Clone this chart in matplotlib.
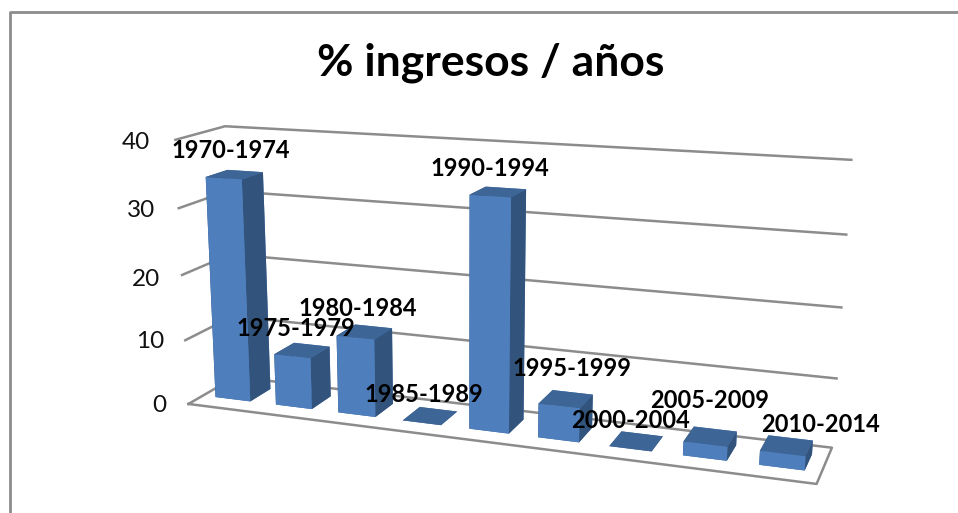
import numpy as np
import matplotlib
matplotlib.use("Agg")
import matplotlib.pyplot as plt
from matplotlib.lines import Line2D

# ---- data ----
categories = ["1970-1974", "1975-1979", "1980-1984", "1985-1989", "1990-1994",
              "1995-1999", "2000-2004", "2005-2009", "2010-2014"]
values = [34.0, 7.9, 11.8, 0.0, 34.0, 5.0, 0.0, 2.0, 2.0]
z_ticks = [0, 10, 20, 30, 40]
title = "% ingresos / años"

# ---- layout (pixels in the 958x513 picture) ----
W, H = 958, 513
label_px = [(231, 151), (296, 328), (358, 309), (424, 395), (490, 169),
            (572, 368), (631, 421), (710, 400), (821, 424)]
tick_px = [(159, 406), (150, 342), (146, 279), (141, 211), (136, 143)]
GREY = "#8c8c8c"
FRONT, TOP, SIDE = "#4e7ebc", "#3d6596", "#32537c"
FONT = "Lato"

# camera calibration: frame corners of the chart box -> picture pixels
n = len(categories)
zmax = z_ticks[-1]
calib = [((0, 0, 0), (191, 404)), ((0, 1, 0), (233, 377)), ((n, 1, 0), (832, 447)),
         ((n, 0, 0), (816, 485)), ((0, 0, zmax), (174, 139)), ((0, 1, zmax), (227, 127)),
         ((n, 1, zmax), (851, 160)), ((0, 0, 30), (178, 208)), ((n, 1, 10), (837, 378)),
         ((n, 1, 30), (846, 235)), ((n, 1, 20), (842, 307))]
A, b = [], []
for (x, y, z), (u, v) in calib:
    A.append([x, y, z, 1, 0, 0, 0, 0, -u * x, -u * y, -u * z]); b.append(u)
    A.append([0, 0, 0, 0, x, y, z, 1, -v * x, -v * y, -v * z]); b.append(v)
p = np.linalg.lstsq(np.array(A, float), np.array(b, float), rcond=None)[0]
P = np.append(p, 1.0).reshape(3, 4)

fig = plt.figure(figsize=(W / 100, H / 100), dpi=100, facecolor="white")
# Axes3D keeps a square box, so make it W x W pixels, centred on the figure
ax = fig.add_axes([0, -(W - H) / 2 / H, 1, W / H], projection="3d")
ax.set_axis_off()
ax.computed_zorder = False
ax.set_proj_type("ortho")  # no clipping of projected lines; camera is set below
ax.apply_aspect()

D = ax.transData.get_affine().get_matrix()
F = np.array([[1, 0, 0], [0, -1, H], [0, 0, 1]], float)
V = np.linalg.inv(D) @ F @ P
depth = np.array([-0.1, 1.0, -0.02, 0.0])
M = np.vstack([V[0], V[1], depth, V[2]])
ax.get_proj = lambda: M

# walls and floor
for t in z_ticks[1:]:
    ax.plot([0, 0, n], [0, 1, 1], [t, t, t], color=GREY, lw=1.8, zorder=1)
ax.plot([0, n, n, 0, 0], [0, 0, 1, 1, 0], [0, 0, 0, 0, 0], color=GREY, lw=1.8, zorder=1)

# bars
xs = np.arange(n) + 0.21
face_cols = [TOP, TOP, FRONT, FRONT, SIDE, SIDE] * n
ax.bar3d(xs, np.full(n, 0.30), np.zeros(n), 0.58, 0.45, np.array(values),
         color=face_cols, shade=False, edgecolor="none", linewidth=0, zorder=3)
ax.set_xlim(0, n); ax.set_ylim(0, 1); ax.set_zlim(0, zmax)

def px(x, y):
    return x / W, 1 - y / H

for (x, y), t in zip(tick_px, z_ticks):
    fig.text(*px(x, y), str(t), ha="center", va="center", fontsize=17.5,
             family=FONT, color="#111111")
for (x, y), lab in zip(label_px, categories):
    fig.text(*px(x, y), lab, ha="center", va="center", fontsize=17,
             family=FONT, weight="bold", color="black", zorder=10)
fig.text(*px(491, 63), title, ha="center", va="center", fontsize=32,
         family=FONT, weight="bold", color="black")

# outer chart border (top and left remain in the crop)
fig.add_artist(Line2D([10 / W, 10 / W, 1], [0, 1 - 11.5 / H, 1 - 11.5 / H],
                      transform=fig.transFigure, color=GREY, lw=2.0))

fig.savefig("out.png", dpi=100)
